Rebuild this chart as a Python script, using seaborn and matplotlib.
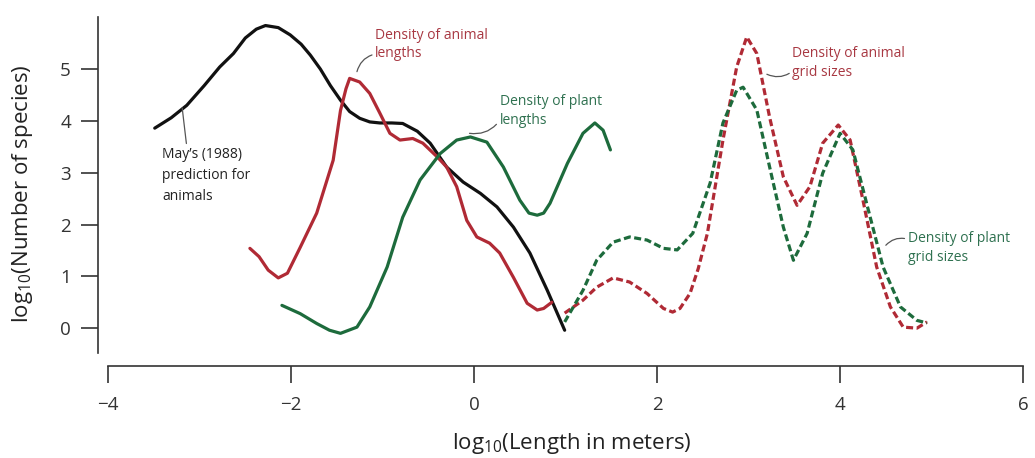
import numpy as np
import pandas as pd
import matplotlib
matplotlib.use("Agg")
import matplotlib.pyplot as plt
import seaborn as sns

# ---- data ----
may_x = [-3.49, -3.31, -3.14, -2.95, -2.78, -2.63, -2.5, -2.38, -2.28, -2.14, -2.01,
         -1.89, -1.79, -1.68, -1.57, -1.46, -1.36, -1.25, -1.14, -1.03, -0.9, -0.78,
         -0.62, -0.48, -0.30, -0.12, 0.07, 0.25, 0.43, 0.61, 0.80, 0.99]
may_y = [3.86, 4.06, 4.3, 4.68, 5.04, 5.3, 5.6, 5.77, 5.84, 5.8, 5.66,
         5.48, 5.27, 5.0, 4.68, 4.4, 4.18, 4.05, 3.98, 3.96, 3.96, 3.95,
         3.8, 3.57, 3.11, 2.82, 2.6, 2.34, 1.95, 1.45, 0.73, -0.04]

anim_len_x = [-2.45, -2.35, -2.25, -2.14, -2.04, -1.9, -1.72, -1.54, -1.46, -1.40, -1.36,
              -1.25, -1.14, -1.03, -0.92, -0.81, -0.67, -0.56, -0.40, -0.30, -0.19,
              -0.08, 0.03, 0.17, 0.28, 0.43, 0.58, 0.69, 0.76, 0.85]
anim_len_y = [1.54, 1.38, 1.12, 0.97, 1.06, 1.56, 2.22, 3.24, 4.2, 4.62, 4.82,
              4.75, 4.53, 4.15, 3.76, 3.63, 3.66, 3.57, 3.3, 3.11, 2.73,
              2.08, 1.76, 1.64, 1.45, 0.98, 0.48, 0.35, 0.38, 0.5]

plant_len_x = [-2.1, -1.9, -1.72, -1.58, -1.46, -1.28, -1.14, -0.95, -0.78, -0.59, -0.37,
               -0.19, -0.04, 0.14, 0.32, 0.5, 0.6, 0.69, 0.76, 0.83, 1.02, 1.19, 1.32,
               1.41, 1.49]
plant_len_y = [0.44, 0.28, 0.09, -0.04, -0.1, 0.02, 0.41, 1.18, 2.14, 2.86, 3.37,
               3.63, 3.69, 3.59, 3.11, 2.47, 2.22, 2.18, 2.22, 2.41, 3.18, 3.76, 3.96,
               3.82, 3.44]

anim_grid_x = [0.99, 1.19, 1.34, 1.52, 1.7, 1.89, 2.07, 2.17, 2.25, 2.36, 2.45, 2.55,
               2.72, 2.87, 2.98, 3.09, 3.23, 3.38, 3.53, 3.67, 3.81, 3.98, 4.11, 4.25,
               4.4, 4.55, 4.69, 4.84, 4.95]
anim_grid_y = [0.29, 0.54, 0.79, 0.97, 0.89, 0.67, 0.38, 0.31, 0.38, 0.67, 1.15, 1.83,
               3.63, 5.04, 5.62, 5.3, 4.07, 2.92, 2.37, 2.73, 3.57, 3.92, 3.63, 2.47,
               1.18, 0.41, 0.02, 0.0, 0.12]

plant_grid_x = [0.99, 1.19, 1.34, 1.52, 1.7, 1.89, 2.07, 2.22, 2.39, 2.58, 2.72, 2.87,
                2.94, 3.09, 3.23, 3.38, 3.49, 3.64, 3.81, 4.0, 4.14, 4.3, 4.47, 4.66,
                4.84, 4.95]
plant_grid_y = [0.12, 0.73, 1.31, 1.66, 1.76, 1.7, 1.54, 1.51, 1.83, 2.8, 3.96, 4.59,
                4.65, 4.21, 3.11, 1.95, 1.31, 1.83, 2.99, 3.76, 3.44, 2.34, 1.18, 0.41,
                0.15, 0.1]

x_ticks = [-4, -2, 0, 2, 4, 6]
y_ticks = [0, 1, 2, 3, 4, 5]

BLACK = "#111111"
RED = "#b02a35"
GREEN = "#1d6b3c"
RED_TXT = "#a83842"
GREEN_TXT = "#2f7150"

sns.set_theme(style="white")
plt.rcParams["font.family"] = ["Open Sans", "DejaVu Sans"]
plt.rcParams["mathtext.default"] = "regular"

fig = plt.figure(figsize=(10.35, 4.58), dpi=100)
ax = fig.add_axes([0.0947, 0.2009, 0.9929 - 0.0947, 0.968 - 0.2009])

def draw(xs, ys, color, dashed=False):
    df = pd.DataFrame({"x": xs, "y": ys})
    sns.lineplot(data=df, x="x", y="y", ax=ax, color=color, sort=False,
                 estimator=None, linewidth=2.3)
    if dashed:
        ax.lines[-1].set_linestyle((0, (2.2, 1.1)))

draw(may_x, may_y, BLACK)
draw(anim_len_x, anim_len_y, RED)
draw(plant_len_x, plant_len_y, GREEN)
draw(anim_grid_x, anim_grid_y, RED, dashed=True)
draw(plant_grid_x, plant_grid_y, GREEN, dashed=True)

ax.set_xlim(-4.11, 6.05)
ax.set_ylim(-0.73, 6.05)
ax.set_xticks(x_ticks)
ax.set_xticklabels(["\u22124", "\u22122", "0", "2", "4", "6"])
ax.set_yticks(y_ticks)
ax.set_yticklabels([str(v) for v in y_ticks])

for s in ["top", "right"]:
    ax.spines[s].set_visible(False)
for s in ["left", "bottom"]:
    ax.spines[s].set_color("#333333")
    ax.spines[s].set_linewidth(1.2)
ax.spines["left"].set_bounds(-0.48, 6.0)
ax.spines["bottom"].set_bounds(-4, 6)

ax.tick_params(axis="both", which="major", length=12.5, width=1.2, color="#333333",
               direction="out", labelsize=13.5, labelcolor="#333333",
               left=True, bottom=True)
ax.tick_params(axis="y", pad=7)
ax.tick_params(axis="x", pad=9)

ax.set_xlabel(r"log$_{10}$(Length in meters)", fontsize=16, color="#222222")
ax.set_ylabel(r"log$_{10}$(Number of species)", fontsize=16, color="#222222")
ax.xaxis.set_label_coords(0.51, -0.185)
ax.yaxis.set_label_coords(-0.068, 0.49)

ann_fs = 10
lead = dict(arrowstyle="-", color="#555555", lw=0.9)

ax.annotate("May\u2019s (1988)\nprediction for\nanimals", xy=(-3.19, 4.25), xytext=(-3.41, 3.5),
            fontsize=ann_fs, color="#222222", ha="left", va="top", linespacing=1.55,
            arrowprops=dict(lead, shrinkA=0, shrinkB=0, relpos=(0.28, 1.0)))
ax.annotate("Density of animal\nlengths", xy=(-1.28, 4.95), xytext=(-1.08, 5.8),
            fontsize=ann_fs, color=RED_TXT, ha="left", va="top", linespacing=1.35,
            arrowprops=dict(lead, shrinkA=0, shrinkB=0, relpos=(0.0, 0.22),
                            connectionstyle="arc3,rad=0.3"))
ax.annotate("Density of plant\nlengths", xy=(-0.05, 3.76), xytext=(0.28, 4.52),
            fontsize=ann_fs, color=GREEN_TXT, ha="left", va="top", linespacing=1.35,
            arrowprops=dict(lead, shrinkA=0, shrinkB=0, relpos=(0.0, 0.22),
                            connectionstyle="arc3,rad=-0.3"))
ax.annotate("Density of animal\ngrid sizes", xy=(3.2, 4.9), xytext=(3.48, 5.45),
            fontsize=ann_fs, color=RED_TXT, ha="left", va="top", linespacing=1.35,
            arrowprops=dict(lead, shrinkA=0, shrinkB=0, relpos=(0.0, 0.25),
                            connectionstyle="arc3,rad=-0.3"))
ax.annotate("Density of plant\ngrid sizes", xy=(4.5, 1.6), xytext=(4.74, 1.88),
            fontsize=ann_fs, color=GREEN_TXT, ha="left", va="top", linespacing=1.35,
            arrowprops=dict(lead, shrinkA=0, shrinkB=0, relpos=(0.0, 0.75),
                            connectionstyle="arc3,rad=0.3"))

fig.savefig("out.png", dpi=100)
